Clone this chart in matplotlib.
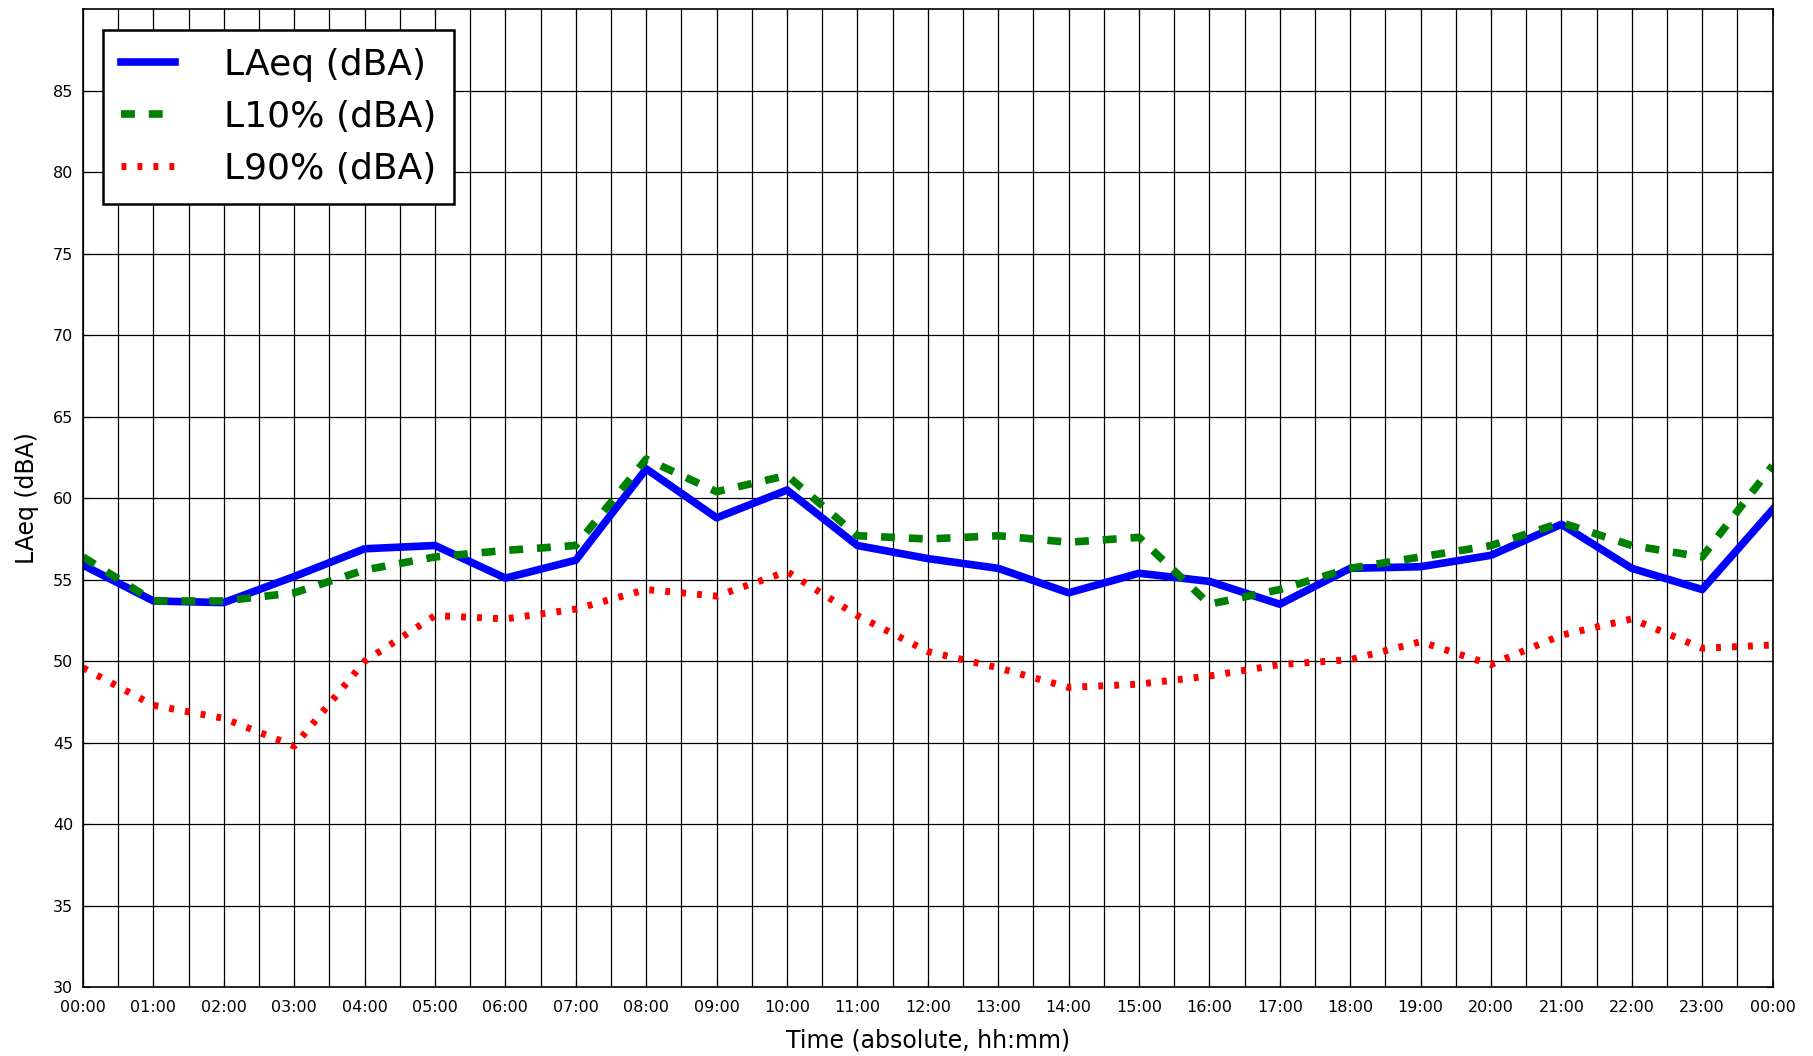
import numpy as np
import matplotlib
matplotlib.use("Agg")
import matplotlib.pyplot as plt
from matplotlib.ticker import MultipleLocator, FixedLocator

# hourly noise levels over one day (00:00 .. 00:00 next day)
hours = np.arange(25)
hour_labels = ["%02d:00" % (h % 24) for h in hours]

laeq = [55.9, 53.7, 53.6, 55.2, 56.9, 57.1, 55.1, 56.2, 61.8, 58.8, 60.5, 57.1,
        56.3, 55.7, 54.2, 55.4, 54.9, 53.5, 55.7, 55.8, 56.5, 58.4, 55.7, 54.4, 59.3]
l10 = [56.4, 53.7, 53.7, 54.2, 55.6, 56.4, 56.8, 57.1, 62.4, 60.4, 61.4, 57.7,
       57.5, 57.7, 57.3, 57.6, 53.5, 54.4, 55.7, 56.4, 57.1, 58.5, 57.1, 56.4, 62.0]
l90 = [49.6, 47.3, 46.5, 44.8, 50.0, 52.8, 52.6, 53.2, 54.4, 54.0, 55.5, 52.8,
       50.6, 49.6, 48.4, 48.6, 49.1, 49.8, 50.1, 51.2, 49.8, 51.6, 52.6, 50.8, 51.0]


def main():
    plt.rcParams['lines.scale_dashes'] = False
    fig = plt.figure(figsize=(18.13, 10.56), dpi=100)
    ax = fig.add_axes([0.0458, 0.0649, 0.9319, 0.9266])

    ax.plot(hours, laeq, color='blue', lw=5.5, label='LAeq (dBA)')
    ax.plot(hours, l10, color='green', lw=5.5, dashes=(10, 10), label='L10% (dBA)')
    ax.plot(hours, l90, color='red', lw=5, dashes=(3.5, 8), label='L90% (dBA)')

    ax.set_xlim(0, 24)
    ax.set_ylim(30, 90)
    ax.xaxis.set_major_locator(FixedLocator(hours))
    ax.set_xticklabels(hour_labels)
    ax.xaxis.set_minor_locator(MultipleLocator(0.5))
    ax.set_yticks(np.arange(30, 90, 5))

    ax.grid(True, which='both', axis='x', color='black', lw=0.9, ls='-')
    ax.grid(True, which='major', axis='y', color='black', lw=0.9, ls='-')
    ax.tick_params(which='both', direction='in', top=True, right=True,
                   labelsize=11.5, length=5, pad=7)
    ax.tick_params(axis='x', pad=9)
    ax.tick_params(which='minor', length=0)
    for s in ax.spines.values():
        s.set_linewidth(1.2)

    ax.set_xlabel('Time (absolute, hh:mm)', fontsize=17, labelpad=10)
    ax.set_ylabel('LAeq (dBA)', fontsize=17, labelpad=10)

    leg = ax.legend(loc='upper left', fontsize=26, handlelength=1.5,
                    fancybox=False, framealpha=1, borderpad=0.5,
                    handletextpad=1.35, labelspacing=0.5,
                    bbox_to_anchor=(0.001, 0.997))
    leg.get_frame().set_edgecolor('black')
    leg.get_frame().set_linewidth(1.8)

    fig.savefig('out.png', dpi=100)


if __name__ == "__main__":
    main()
